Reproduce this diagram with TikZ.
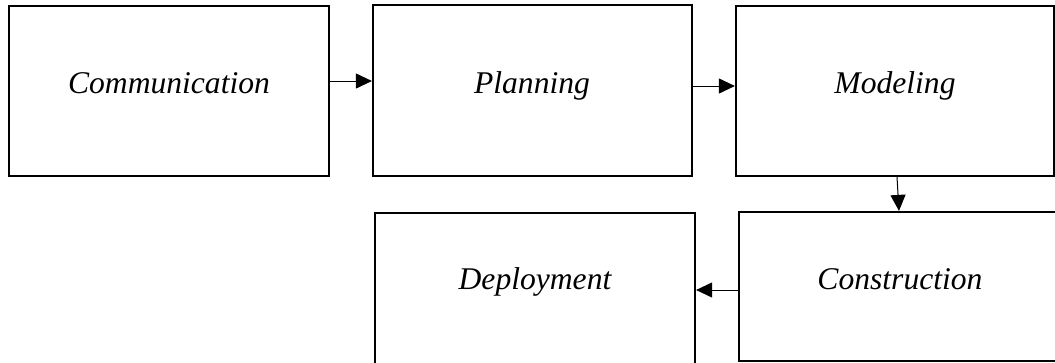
\documentclass[tikz,border=0pt]{standalone}
\usepackage{fontspec}
\setmainfont{Liberation Serif}
\usetikzlibrary{arrows.meta}
\begin{document}
\begin{tikzpicture}[x=1pt,y=-1pt,
  stage/.style={draw=black, line width=2.2pt, rectangle, inner sep=0pt},
  stagetext/.style={anchor=base, inner sep=0pt, font=\fontsize{31.6}{36}\selectfont\itshape},
  flow/.style={draw=black, line width=1pt, -{Triangle[length=16pt,width=15pt]}}]
  \useasboundingbox (0,0) rectangle (1055,362);
  \clip (0,0) rectangle (1055,362);
  \fill[white] (0,0) rectangle (1055,362);

  % process stages
  \node[stage, minimum width=320pt, minimum height=170pt] (comm)   at (169,91)   {};
  \node[stage, minimum width=319pt, minimum height=171pt] (plan)   at (532.5,90.5) {};
  \node[stage, minimum width=318pt, minimum height=170pt] (model)  at (895,91)   {};
  \node[stage, minimum width=320pt, minimum height=149pt] (constr) at (899,286.5) {};
  \node[stage, minimum width=320pt, minimum height=157pt] (deploy) at (535,291.5) {};

  % stage names
  \node[stagetext] (commt)   at (169,93)  {Communication};
  \node[stagetext] (plant)   at (532,93)  {Planning};
  \node[stagetext] (modelt)  at (895,93)  {Modeling};
  \node[stagetext] (constrt) at (900,289) {Construction};
  \node[stagetext] (deployt) at (535,289) {Deployment};

  % connectors between stages
  \draw[flow] (comm.east |- 0,81) -- (plan.west |- 0,81);
  \draw[flow] (plan.east |- 0,86) -- (model.west |- 0,86);
  \draw[flow] ([xshift=2pt]model.south) -- (constr.north);
  \draw[flow] (constr.west |- 0,290) -- (deploy.east |- 0,290);
\end{tikzpicture}
\end{document}
